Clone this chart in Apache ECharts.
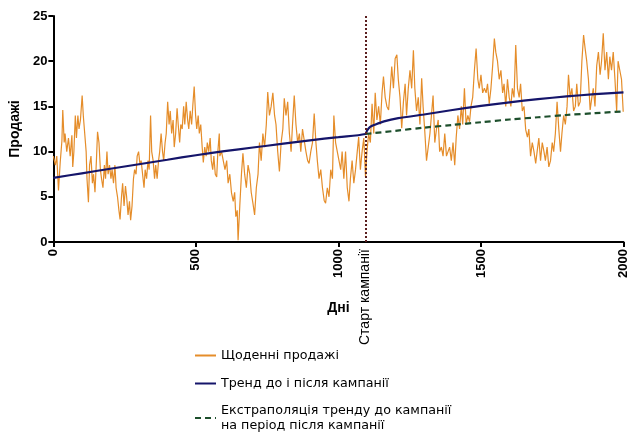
<!DOCTYPE html>
<html>
<head>
<meta charset="utf-8">
<script src="https://cdn.jsdelivr.net/npm/echarts@6/dist/echarts.min.js"></script>
<style>html,body{margin:0;padding:0;background:#fff}#c{width:630px;height:435px}</style>
</head>
<body>
<div id="c"></div>
<script>
// ---- data ----
const campaignDay = 1095;
const xTicks = [0, 500, 1000, 1500, 2000];
const yTicks = [0, 5, 10, 15, 20, 25];

// daily sales before the campaign [day, value]
const salesBefore1 = [[0,9.5],[7,8.5],[12,9.5],[18,5.7],[24,8.8],[30,11.2],[33,14.6],[38,11],[41,12],[47,10],[53,11.5],[59,9.5],[65,11.8],[68,8.3],[72,10],[77,14],[81,11.5],[86,14],[90,12.5],[95,13.5],[101,16.2],[105,14],[110,12],[115,10],[118,7],[123,4.4],[127,8.5],[132,9.5],[137,6.5],[141,7.5],[146,5.5],[151,9],[155,12.2],[160,11],[165,8],[169,7],[174,6],[179,8.5],[183,7],[188,10],[192,7.5],[197,8.5],[202,7],[206,8],[211,6.5],[216,8.5],[220,6],[225,5],[230,3.5],[234,2.5],[239,5],[243,6.5],[248,4],[253,6.2],[257,5],[262,3],[267,4.5],[271,2.4],[276,4],[281,7],[285,8],[290,7.5],[294,9.5],[299,10],[304,8.5],[308,9],[313,7.5],[318,6],[322,8],[327,7],[332,9],[336,8],[341,14],[345,10],[350,9],[355,7],[359,8.5],[364,7],[369,9],[373,10],[378,12],[383,10],[387,9],[392,11],[396,12],[401,15.5],[406,13],[410,14.5],[415,12],[420,13.5],[424,10.5],[429,12],[434,14.8],[438,13],[443,11],[447,13],[452,12.5],[457,15],[461,13],[466,15.5],[471,13.5],[475,12.5],[480,14.5],[485,13],[489,15],[494,17.2],[499,14],[503,12.5],[508,14],[512,12],[517,13],[522,10.5],[526,8.8],[531,10.5],[536,9.5],[540,11],[545,10],[550,11.5],[554,9],[559,8],[563,9.5],[568,7.5],[573,7.2],[577,10],[582,12]];
const salesBefore2 = [[584,9.5],[590,10],[596,9],[602,8],[608,9],[613,6.5],[619,7.5],[625,5.4],[631,4.5],[636,5.5],[640,2.8],[645,3.5],[648,0.2],[654,4],[660,7.6],[665,9.8],[671,7.5],[677,6],[683,8.5],[689,7.5],[694,5.5],[700,4.3],[706,3],[712,6],[718,7.5],[723,11],[729,9],[735,12],[741,10.5],[747,13],[752,16.6],[758,14],[764,15],[770,16.5],[776,14],[781,13],[787,10],[793,7.8],[799,11],[805,12.5],[810,15.9],[816,14],[822,15.5],[828,12],[834,10],[839,13],[845,16.2],[851,13],[857,11],[863,12],[868,10],[874,12.5],[880,12.7],[886,10],[892,9],[897,8.7],[903,10],[909,11],[915,14.2],[921,11],[926,9],[932,7],[938,8],[944,6],[950,4.6],[955,4.3],[961,6],[967,5],[973,8],[979,7],[984,14],[990,11],[996,10],[1002,9],[1008,8],[1013,10],[1019,7],[1025,10],[1031,6],[1037,4.5],[1042,7],[1048,9],[1054,6.5],[1060,8],[1066,10],[1071,11.6],[1077,8],[1083,10],[1089,11.5],[1095,7.2]];
// daily sales after the campaign start
const salesAfter1 = [[1100,10],[1106,12],[1112,11],[1118,15.3],[1124,12],[1129,16.5],[1135,13.5],[1141,15],[1147,13],[1153,16.5],[1158,18.3],[1164,16],[1170,15],[1176,14.6],[1182,17],[1187,19.4],[1193,17],[1199,20.3],[1205,20.7],[1210,18],[1216,16],[1222,12.6],[1228,15.5],[1234,17.5],[1239,14],[1245,17],[1251,19],[1257,17],[1263,21.2],[1268,17],[1274,14.5],[1280,16],[1286,13],[1292,18.1],[1297,15],[1303,12.2],[1309,9],[1315,8.9],[1321,12],[1326,12],[1332,16.2],[1338,11],[1344,12.5],[1350,13.5],[1355,10],[1361,10.5],[1367,9.5],[1373,12],[1379,9.5],[1384,9.4],[1390,10.5],[1396,9],[1402,11],[1408,8.5],[1413,11.5],[1419,14],[1425,12.5],[1431,15],[1436,13],[1442,17],[1448,13],[1454,14],[1460,13.3],[1465,15],[1471,16],[1477,19],[1483,21.4],[1489,18],[1494,17],[1500,18.5],[1506,16.5],[1512,17],[1518,16.5],[1523,17.5],[1529,15.3],[1535,17],[1541,19.5],[1547,22.5],[1552,21],[1558,20],[1564,18],[1570,19],[1576,16.5],[1581,17.5],[1587,15],[1593,18],[1599,16]];
const salesAfter2 = [[1605,15],[1610,17],[1616,16],[1622,21.8],[1628,17],[1634,16],[1639,17.5],[1645,14.5],[1651,15],[1657,12.4],[1663,11.6],[1668,12.5],[1674,9.5],[1680,11],[1686,10],[1692,8.7],[1697,10],[1703,11.5],[1709,9],[1715,11],[1721,10],[1726,9],[1732,10.5],[1738,8.3],[1744,9],[1750,11],[1755,10],[1761,12],[1767,15.5],[1773,12.5],[1779,10],[1784,12],[1790,14],[1796,13],[1802,15],[1807,18.5],[1813,16],[1819,17],[1825,14.5],[1831,15],[1836,17.5],[1842,15],[1848,15.5],[1854,20],[1860,22.9],[1865,21.5],[1871,20],[1877,18],[1883,14.6],[1889,16],[1894,17],[1900,15],[1906,19.5],[1912,21],[1918,18.5],[1923,20],[1929,23.1],[1935,19],[1941,21],[1947,18],[1952,20.5],[1958,19],[1964,21],[1970,18],[1976,14.5],[1981,20],[1987,19],[1993,18],[1999,14.4]];

// trend before and after campaign
const trendDays   = [0, 100, 200, 300, 400, 500, 600, 700, 800, 900, 1000, 1095, 1100, 1110, 1130, 1160, 1210, 1300, 1400, 1500, 1600, 1700, 1800, 1900, 2000];
const trendValues = [7.1, 7.6, 8.1, 8.6, 9.1, 9.6, 10.05, 10.45, 10.85, 11.25, 11.6, 11.95, 12.3, 12.7, 13.0, 13.35, 13.7, 14.1, 14.6, 15.05, 15.45, 15.8, 16.1, 16.35, 16.55];
// extrapolation of pre-campaign trend
const extrapDays   = [1095, 1200, 1300, 1400, 1500, 1600, 1700, 1800, 1900, 2000];
const extrapValues = [11.95, 12.3, 12.65, 12.95, 13.25, 13.55, 13.8, 14.05, 14.25, 14.45];

const seriesNames = ['Щоденні продажі', 'Тренд до і після кампанії', 'Екстраполяція тренду до кампанії\nна період після кампанії'];
const campaignLabel = 'Старт кампанії';

// ---- chart ----
const FONT = 'Liberation Sans, Arial, sans-serif';
const LEGEND_FONT = 'DejaVu Sans, Liberation Sans, sans-serif';
const chart = echarts.init(document.getElementById('c'), null, {renderer: 'canvas'});
const salesData = salesBefore1.concat(salesBefore2, salesAfter1, salesAfter2);
const zip = (a, b) => a.map((d, i) => [d, b[i]]);

const legendBase = {
  orient: 'vertical', left: 194, padding: 0,
  itemWidth: 21, itemHeight: 14, itemGap: 0,
  itemStyle: {opacity: 0},
  textStyle: {fontSize: 12.7, color: '#000', fontFamily: LEGEND_FONT, lineHeight: 15}
};
const legendTops = [348, 376, 403];

const option = {
  animation: false,
  backgroundColor: '#fff',
  textStyle: {fontFamily: FONT},
  grid: {left: 52, right: 3, top: 16, bottom: 193, containLabel: false},
  legend: seriesNames.map((n, i) => Object.assign({}, legendBase, {top: legendTops[i], data: [n]})),
  xAxis: {
    type: 'value', min: xTicks[0], max: xTicks[xTicks.length - 1], interval: 500,
    name: 'Дні', nameLocation: 'middle', nameGap: 59,
    nameTextStyle: {fontWeight: 'bold', fontSize: 14, color: '#000', fontFamily: FONT},
    axisLine: {show: true, lineStyle: {color: '#000', width: 2}},
    axisTick: {show: true, inside: false, length: 5, lineStyle: {color: '#000', width: 2}},
    axisLabel: {rotate: 90, fontWeight: 'bold', fontSize: 13, color: '#000', margin: 7, fontFamily: FONT,
      showMaxLabel: true, showMinLabel: true, formatter: v => String(v)},
    splitLine: {show: false}
  },
  yAxis: {
    type: 'value', min: yTicks[0], max: yTicks[yTicks.length - 1], interval: 5,
    name: 'Продажі', nameLocation: 'middle', nameGap: 27,
    nameTextStyle: {fontWeight: 'bold', fontSize: 14, color: '#000', fontFamily: FONT},
    axisLine: {show: true, lineStyle: {color: '#000', width: 2}},
    axisTick: {show: true, inside: false, length: 5, lineStyle: {color: '#000', width: 2}},
    axisLabel: {fontWeight: 'bold', fontSize: 13, color: '#000', margin: 6, fontFamily: FONT, formatter: v => String(v)},
    splitLine: {show: false}
  },
  series: [
    {
      name: seriesNames[0], type: 'line', data: salesData, symbol: 'none',
      lineStyle: {color: '#e58d2a', width: 1.2},
      itemStyle: {color: '#e58d2a'},
      z: 2,
      markLine: {
        silent: true, symbol: 'none',
        label: {show: false},
        lineStyle: {color: '#5a1e1e', width: 2, type: [2, 2]},
        data: [{xAxis: campaignDay}]
      }
    },
    {
      name: seriesNames[1], type: 'line', data: zip(trendDays, trendValues), symbol: 'none', smooth: 0.3,
      lineStyle: {color: '#15156a', width: 2.2}, itemStyle: {color: '#15156a'}, z: 3
    },
    {
      name: seriesNames[2], type: 'line', data: zip(extrapDays, extrapValues), symbol: 'none', smooth: 0.3,
      lineStyle: {color: '#1d4f2c', width: 2.2, type: [6, 4]}, itemStyle: {color: '#1d4f2c'}, z: 3
    }
  ]
};
chart.setOption(option);

const px = chart.convertToPixel({xAxisIndex: 0}, campaignDay);
const py0 = chart.convertToPixel({yAxisIndex: 0}, 0);
chart.setOption({
  graphic: [{
    type: 'text', x: px, y: py0 + 103, rotation: Math.PI / 2,
    style: {text: campaignLabel, fontSize: 14, fill: '#000', align: 'left', verticalAlign: 'middle', fontFamily: FONT}
  }]
});
</script>
</body>
</html>
